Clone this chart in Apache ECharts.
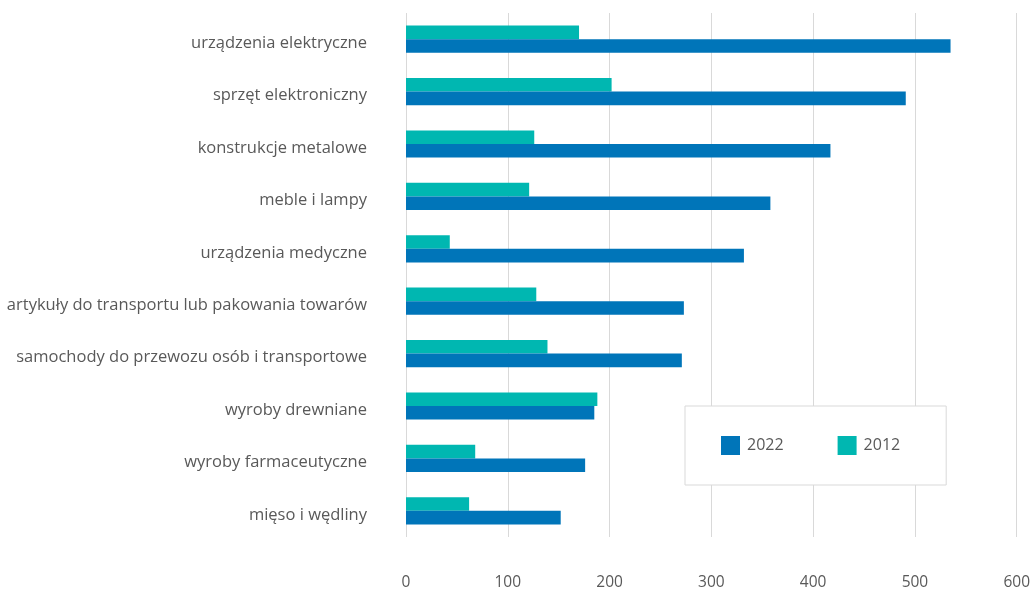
<!DOCTYPE html>
<html>
<head>
<meta charset="utf-8">
<script src="https://cdn.jsdelivr.net/npm/echarts@6/dist/echarts.min.js"></script>
<style>html,body{margin:0;padding:0;background:#fff}#c{width:1033px;height:592px}</style>
</head>
<body>
<div id="c"></div>
<script>
const categories = [
  'urządzenia elektryczne',
  'sprzęt elektroniczny',
  'konstrukcje metalowe',
  'meble i lampy',
  'urządzenia medyczne',
  'artykuły do transportu lub pakowania towarów',
  'samochody do przewozu osób i transportowe',
  'wyroby drewniane',
  'wyroby farmaceutyczne',
  'mięso i wędliny'
];
const values2022 = [535, 491, 417, 358, 332, 273, 271, 185, 176, 152];
const values2012 = [170, 202, 126, 121, 43, 128, 139, 188, 68, 62];
const xTicks = [0, 100, 200, 300, 400, 500, 600];

const FONT = '"Open Sans", "Liberation Sans", sans-serif';
const chart = echarts.init(document.getElementById('c'), null, {renderer: 'canvas'});
chart.setOption({
  animation: false,
  backgroundColor: '#ffffff',
  grid: {left: 406, right: 15, top: 13, bottom: 55, containLabel: false},
  legend: {
    data: ['2022', '2012'],
    left: 685, top: 406,
    padding: [30, 46, 30, 36],
    itemWidth: 19, itemHeight: 19, itemGap: 54,
    borderColor: '#d9d9d9', borderWidth: 1,
    backgroundColor: '#ffffff',
    icon: 'rect',
    textStyle: {fontFamily: FONT, fontSize: 16, color: '#595959', padding: [0, 0, 0, 2]}
  },
  xAxis: {
    type: 'value', min: xTicks[0], max: xTicks[xTicks.length - 1], interval: 100,
    axisLine: {show: false}, axisTick: {show: false},
    splitLine: {lineStyle: {color: '#d9d9d9', width: 1}},
    axisLabel: {margin: 38, fontFamily: FONT, fontSize: 15.5, color: '#595959'}
  },
  yAxis: {
    type: 'category', data: categories, inverse: true,
    axisLine: {show: false}, axisTick: {show: false},
    axisLabel: {
      margin: 39,
      formatter: v => '{a|' + v + '}',
      rich: {a: {fontFamily: FONT, fontSize: 16.5, color: '#595959', padding: [8, 0, 0, 0]}}
    }
  },
  series: [
    {name: '2012', type: 'bar', data: values2012, barGap: '0%', barCategoryGap: '48%',
     itemStyle: {color: '#00b7b1'}},
    {name: '2022', type: 'bar', data: values2022, barGap: '0%', barCategoryGap: '48%',
     itemStyle: {color: '#0075b9'}}
  ]
});
</script>
</body>
</html>
